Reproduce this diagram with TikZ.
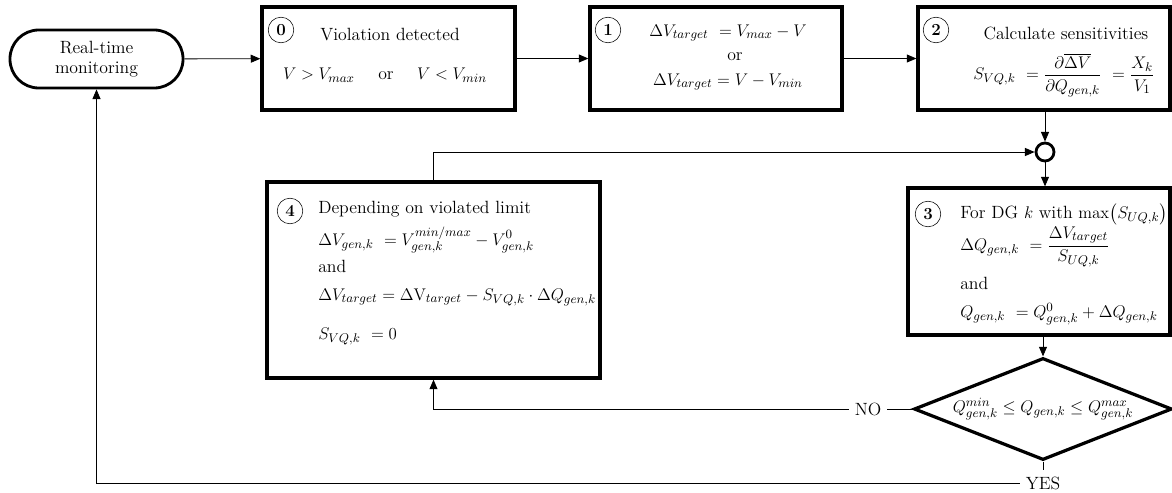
\documentclass[tikz,border=0pt]{standalone}
\usepackage{amsmath,amssymb}
\usetikzlibrary{arrows.meta,shapes.geometric,positioning}

\begin{document}
\begin{tikzpicture}[x=0.025cm,y=-0.025cm]
\tikzset{
  stepbox/.style={rectangle,draw,line width=2.3pt,inner sep=0pt},
  startnode/.style={rectangle,draw,line width=2pt,rounded corners=0.72cm,minimum width=4.325cm,minimum height=1.45cm,align=center},
  decision/.style={diamond,draw,line width=2.3pt,inner sep=0pt,aspect=2.53,minimum width=6.45cm,minimum height=2.55cm},
  junction/.style={circle,draw,line width=2pt,minimum size=0.45cm,inner sep=0pt},
  stepnum/.style={circle,draw,thin,minimum size=0.64cm,inner sep=0pt,font=\large\bfseries},
  steptext/.style={anchor=west,inner sep=0pt},
  directed/.style={-{Triangle[length=2.4mm,width=2mm]},semithick},
  undirected/.style={semithick}
}
\useasboundingbox (0,0) rectangle (1172,493);
\fontsize{12.6}{14.5}\selectfont
\node[startnode] (n_mon) at (96.5,59) {Real-time\\monitoring};
\node[stepbox,minimum width=6.325cm,minimum height=2.575cm] (n_s0) at (388.5,58.5) {};
\node[stepbox,minimum width=6.3cm,minimum height=2.575cm] (n_s1) at (716,58.5) {};
\node[stepbox,minimum width=6.3cm,minimum height=2.575cm] (n_s2) at (1044,58.5) {};
\node[stepbox,minimum width=6.55cm,minimum height=3.675cm] (n_s3) at (1039,261.5) {};
\node[stepbox,minimum width=8.325cm,minimum height=4.9cm] (n_s4) at (433.5,280) {};
\node[junction] (n_junc) at (1045,152) {};
\node[decision] (n_chk) at (1043,409) {$Q_{gen,k}^{min} \leq Q_{gen,k} \leq Q_{gen,k}^{max}$};
\node (n_no) at (868,409) {NO};
\node (n_yes) at (1043,483) {YES};
\node[stepnum] (n_c0) at (281,30) {0};
\node (n_t0) at (390,35) {Violation detected};
\node (n_e0) at (385,75) {$V > V_{max}$ \quad or \quad $V < V_{min}$};
\node[stepnum] (n_c1) at (608,30) {1};
\node (n_e1a) at (728,33) {$\Delta V_{target}\ = V_{max} - V$};
\node (n_e1b) at (735,57) {or};
\node (n_e1c) at (728,82) {$\Delta V_{target} = V - V_{min}$};
\node[stepnum] (n_c2) at (936,30) {2};
\node (n_t2) at (1066,33) {Calculate sensitivities};
\node (n_e2) at (1064,75) {$S_{VQ,k}\ = \dfrac{\partial\overline{\Delta V}}{\partial Q_{gen,k}}\ = \dfrac{X_k}{V_1}$};
\node[stepnum] (n_c3) at (928,214) {3};
\node[steptext] (n_t3) at (960,214) {For DG $k$ with $\max\bigl(S_{UQ,k}\bigr)$};
\node[steptext] (n_e3a) at (960,247) {$\Delta Q_{gen,k}\ = \dfrac{\Delta V_{target}}{S_{UQ,k}}$};
\node[steptext] (n_e3b) at (960,283) {and};
\node[steptext] (n_e3c) at (960,314) {$Q_{gen,k}\ = Q_{gen,k}^{0} + \Delta Q_{gen,k}$};
\node[stepnum] (n_c4) at (290,211) {4};
\node[steptext] (n_t4) at (318,209) {Depending on violated limit};
\node[steptext] (n_e4a) at (318,240) {$\Delta V_{gen,k}\ = V_{gen,k}^{min/max} - V_{gen,k}^{0}$};
\node[steptext] (n_e4b) at (318,266) {and};
\node[steptext] (n_e4c) at (318,297) {$\Delta V_{target} = \Delta\mathrm{V}_{target} - S_{VQ,k}\cdot\Delta Q_{gen,k}$};
\node[steptext] (n_e4d) at (318,336) {$S_{VQ,k}\ = 0$};
\draw[directed] (n_mon) -- (n_s0);
\draw[directed] (n_s0) -- (n_s1);
\draw[directed] (n_s1) -- (n_s2);
\draw[directed] (n_s2.south -| n_junc) -- (n_junc);
\draw[directed] (n_junc) -- (n_junc |- n_s3.north);
\draw[directed] (n_s3.south -| n_chk) -- (n_chk);
\draw[directed] (n_s4) |- (n_junc);
\draw[undirected] (n_chk) -- (n_no);
\draw[directed] (n_no) -| (n_s4);
\draw[undirected] (n_chk) -- (n_yes);
\draw[directed] (n_yes) -| (n_mon);
\end{tikzpicture}
\end{document}
